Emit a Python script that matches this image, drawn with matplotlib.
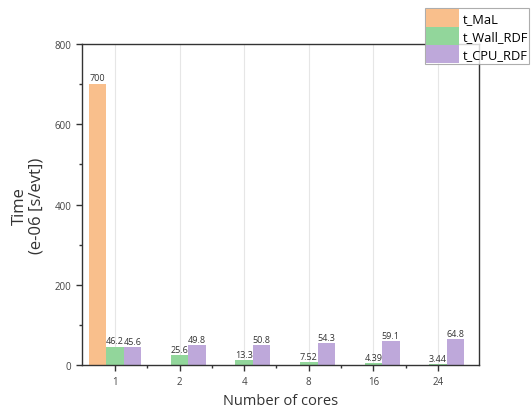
import matplotlib
matplotlib.use("Agg")
import matplotlib.pyplot as plt
import numpy as np

plt.rcParams['font.family'] = ['Open Sans', 'DejaVu Sans']

cores = ["1", "2", "4", "8", "16", "24"]
t_mal = [700, 0, 0, 0, 0, 0]
t_wall = [46.2, 25.6, 13.3, 7.52, 4.39, 3.44]
t_cpu = [45.6, 49.8, 50.8, 54.3, 59.1, 64.8]

c_mal = "#F9BF8C"
c_wall = "#92D69B"
c_cpu = "#BEA8DA"

fig = plt.figure(figsize=(5.32, 4.10), dpi=100)
ax = fig.add_axes([0.154, 0.107, 0.746, 0.783])

x = np.arange(len(cores))
w = 0.27
ax.bar(x - w, t_mal, w, color=c_mal, label="t_MaL", zorder=2)
ax.bar(x, t_wall, w, color=c_wall, label="t_Wall_RDF", zorder=2)
ax.bar(x + w, t_cpu, w, color=c_cpu, label="t_CPU_RDF", zorder=2)

lab_kw = dict(ha="center", va="bottom", fontsize=6.5, color="#333333")
ax.text(x[0] - w, t_mal[0] + 5, "700", **lab_kw)
for i in range(len(cores)):
    ax.text(x[i], t_wall[i] + 3, f"{t_wall[i]:g}", **lab_kw)
    ax.text(x[i] + w, t_cpu[i] + 3, f"{t_cpu[i]:g}", **lab_kw)

ax.set_xlim(-0.51, 5.63)
ax.set_ylim(0, 800)
ax.set_xticks(x)
ax.set_xticklabels(cores)
ax.set_xticks(x[:-1] + 0.5, minor=True)
ax.set_yticks([0, 200, 400, 600, 800])
ax.set_yticks([100, 300, 500, 700], minor=True)

ax.grid(axis="x", which="major", color="#e6e6e6", linewidth=0.8, zorder=0)
ax.tick_params(axis="both", which="major", direction="out", length=4, width=1,
               labelsize=7, labelcolor="#444444", color="#333333")
ax.tick_params(axis="both", which="minor", direction="out", length=2.5, width=1,
               color="#333333")
for s in ax.spines.values():
    s.set_color("#333333")
    s.set_linewidth(1)

ax.set_xlabel("Number of cores", fontsize=10.5, color="#333333", labelpad=5)
ax.set_ylabel("Time\n(e-06 [s/evt])", fontsize=12, color="#333333", labelpad=7,
              linespacing=1.1)

leg = fig.legend(loc="upper left", bbox_to_anchor=(0.799, 0.978),
                 fontsize=9.3, frameon=True, fancybox=False, borderpad=0.1,
                 handlelength=2.5, handleheight=1.75, handletextpad=0.3,
                 labelspacing=0.0, borderaxespad=0)
leg.get_frame().set_edgecolor("#999999")
leg.get_frame().set_linewidth(0.8)

fig.savefig("out.png", dpi=100)
